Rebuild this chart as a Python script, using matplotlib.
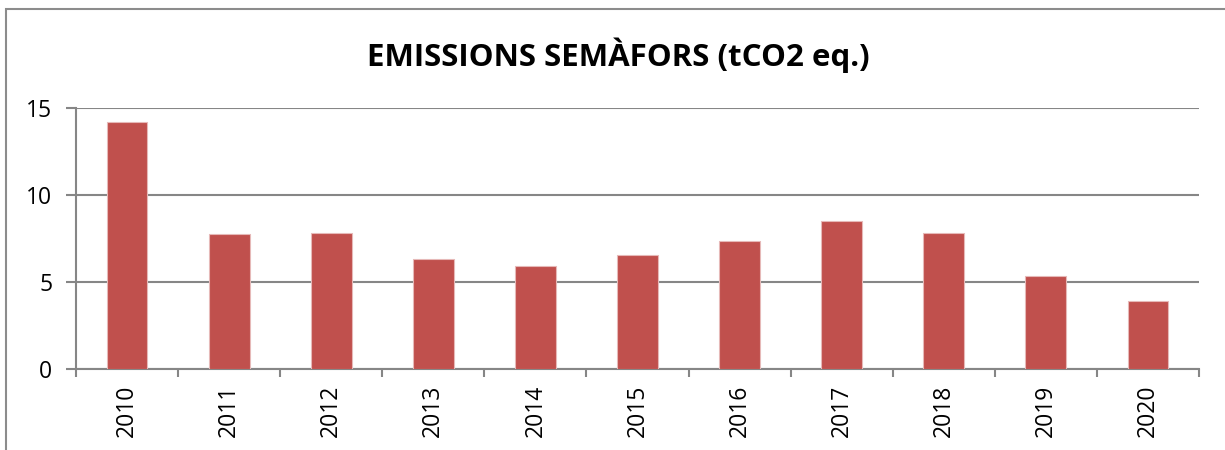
import numpy as np
import matplotlib
matplotlib.use("Agg")
import matplotlib.pyplot as plt
from matplotlib.patches import Rectangle

years = ["2010", "2011", "2012", "2013", "2014", "2015", "2016", "2017", "2018", "2019", "2020"]
emissions = [14.21, 7.76, 7.82, 6.32, 5.92, 6.55, 7.36, 8.51, 7.82, 5.36, 3.89]
y_ticks = [0, 5, 10, 15]

plt.rcParams['font.family'] = ['Open Sans', 'DejaVu Sans']

fig = plt.figure(figsize=(12.25, 4.5), dpi=100)
ax = fig.add_axes([76/1225, 1 - 369/450, (1199 - 76)/1225, (369 - 108)/450])

# outer chart border (Excel chart area)
fig.patches.append(Rectangle((6/1225, -0.1), 1.2, 1.1 - 9/450,
                             transform=fig.transFigure, fill=False,
                             edgecolor="#8c8c8c", linewidth=1.5))

x = np.arange(len(years))
ax.bar(x, emissions, width=0.4, color="#C0504D", edgecolor="#E6B9B8",
       linewidth=0.8, zorder=3)

grey = "#868686"
ax.set_xlim(-0.5, len(years) - 0.5)
ax.set_ylim(0, 15)
ax.set_yticks(y_ticks)
ax.yaxis.grid(True, color=grey, linewidth=1.5, zorder=0)
for s in ["top", "right"]:
    ax.spines[s].set_visible(False)
for s in ["left", "bottom"]:
    ax.spines[s].set_color(grey)
    ax.spines[s].set_linewidth(1.5)

ax.set_xticks(x)
ax.set_xticklabels(years, rotation=90, fontsize=16.5)
ax.set_xticks(np.arange(-0.5, len(years)), minor=True)
ax.tick_params(axis="x", which="major", length=0, pad=11)
ax.tick_params(axis="x", which="minor", length=6, width=1.5, color=grey)
ax.tick_params(axis="y", length=7, width=1.5, color=grey, labelsize=16.5, pad=10)

fig.text(618/1225, 1 - 55/450, "EMISSIONS SEMÀFORS (tCO2 eq.)",
         ha="center", va="center", fontsize=22.5, fontweight="bold")

fig.savefig("out.png", dpi=100)
plt.close(fig)
